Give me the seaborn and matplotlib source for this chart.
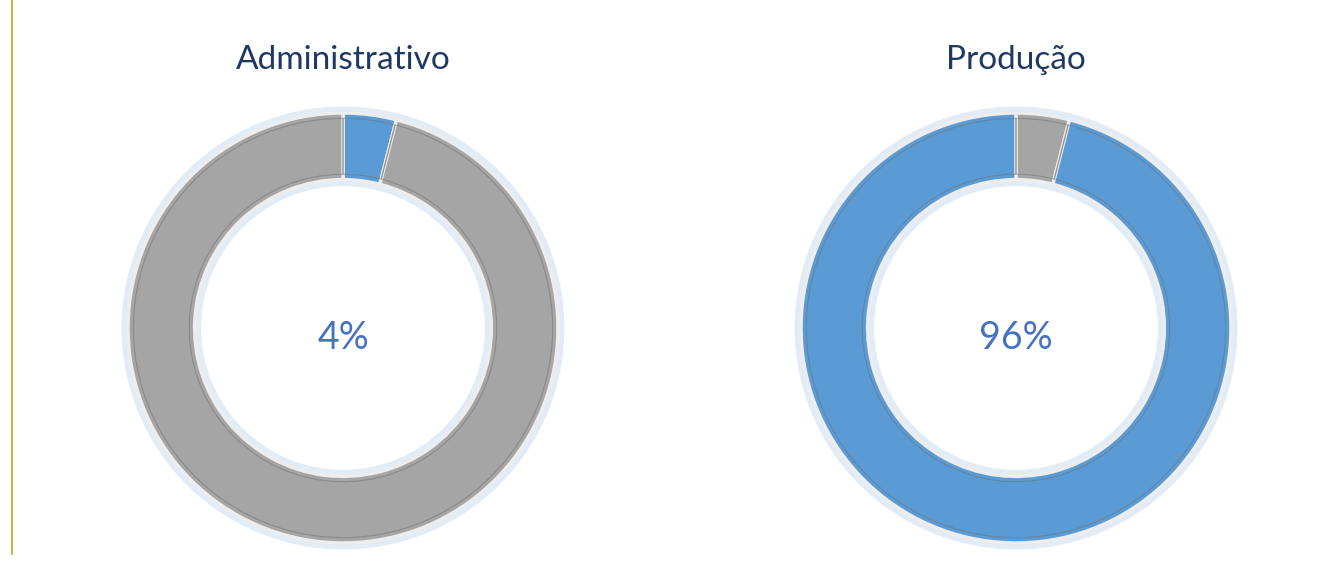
import matplotlib
matplotlib.use("Agg")
import matplotlib.pyplot as plt
import seaborn as sns

sns.set_theme(style="white")
plt.rcParams['font.family'] = ['Lato', 'DejaVu Sans']

# Data
groups = ["Administrativo", "Produção"]
share_pct = [4, 96]
blue = "#5B9BD5"
gray = "#A5A5A5"

fig = plt.figure(figsize=(13.34, 5.62), dpi=100)
fig.patch.set_facecolor("white")

centers_px = [343, 1016]
cy_px = 328
size_px = 473

for name, pct, cx in zip(groups, share_pct, centers_px):
    ax = fig.add_axes([(cx - size_px / 2) / 1334, (562 - cy_px - size_px / 2) / 562,
                       size_px / 1334, size_px / 562])
    # smaller slice sits first, just right of 12 o'clock
    if pct < 50:
        vals, cols = [pct, 100 - pct], [blue, gray]
    else:
        vals, cols = [100 - pct, pct], [gray, blue]
    # soft glow behind the ring
    ax.pie([1], radius=1.03, colors=["#D6E4F5"], startangle=90,
           wedgeprops=dict(width=0.37, edgecolor="none", alpha=0.7))
    ax.pie(vals, radius=1.0, colors=cols, startangle=90, counterclock=False,
           wedgeprops=dict(width=0.31, edgecolor="#EDEDED", linewidth=2.5))
    ax.pie(vals, radius=0.975, colors=["none", "none"], startangle=90, counterclock=False,
           wedgeprops=dict(width=0.26, edgecolor="#6F6F6F", linewidth=0.8, alpha=0.5))
    ax.text(0, -0.045, f"{pct}%", ha="center", va="center", fontsize=27, color="#4472C4")
    ax.set_xlim(-1.1, 1.1)
    ax.set_ylim(-1.1, 1.1)
    ax.set_aspect("equal")
    ax.axis("off")
    fig.text(cx / 1334, 1 - 60 / 562, name, ha="center", va="center",
             fontsize=24, color="#1F3864")

# left border of the frame
fig.add_artist(plt.Line2D([12 / 1334, 12 / 1334], [8 / 562, 1.0], color="#D4AF4A", linewidth=1.5))

fig.savefig("out.png", dpi=100)
